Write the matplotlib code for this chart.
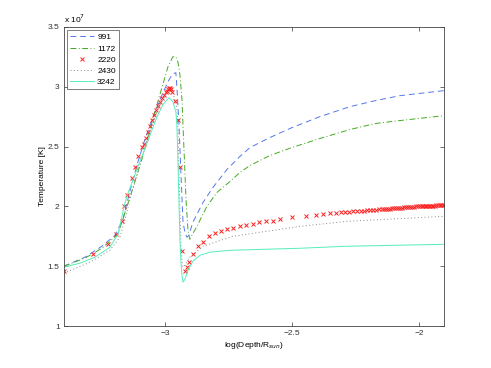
import matplotlib
matplotlib.use("Agg")
import matplotlib.pyplot as plt

plt.rcParams['font.family'] = ['Liberation Sans', 'DejaVu Sans']

# temperatures in units of 1e7 K, x is log10(depth / R_sun)
x_991 = [-3.398, -3.315, -3.248, -3.197, -3.165, -3.138, -3.106, -3.079, -3.039,
         -3.008, -2.984, -2.969, -2.957, -2.953, -2.945, -2.937, -2.929, -2.921,
         -2.913, -2.906, -2.890, -2.850, -2.811, -2.756, -2.705, -2.665, -2.587,
         -2.500, -2.390, -2.272, -2.173, -2.075, -1.902]
t_991 = [1.500, 1.575, 1.667, 1.758, 1.892, 2.125, 2.375, 2.558, 2.792,
         2.950, 3.058, 3.108, 3.117, 3.000, 2.692, 2.275, 1.875, 1.775,
         1.742, 1.758, 1.867, 2.033, 2.158, 2.308, 2.417, 2.492, 2.575,
         2.658, 2.750, 2.833, 2.883, 2.925, 2.967]

x_1172 = [-3.398, -3.315, -3.248, -3.185, -3.138, -3.091, -3.059, -3.020, -2.988,
          -2.969, -2.957, -2.949, -2.941, -2.933, -2.925, -2.917, -2.909, -2.902,
          -2.894, -2.874, -2.835, -2.795, -2.744, -2.705, -2.665, -2.587, -2.500,
          -2.390, -2.272, -2.173, -2.075, -1.902]
t_1172 = [1.500, 1.567, 1.650, 1.767, 2.075, 2.392, 2.642, 2.933, 3.167,
          3.250, 3.250, 3.208, 3.100, 2.892, 2.475, 2.058, 1.792, 1.725,
          1.758, 1.833, 2.000, 2.117, 2.208, 2.283, 2.342, 2.425, 2.492,
          2.567, 2.642, 2.692, 2.717, 2.758]

x_2220 = [-3.398, -3.283, -3.224, -3.193, -3.169, -3.161, -3.150, -3.130, -3.118,
          -3.106, -3.091, -3.083, -3.075, -3.067, -3.059, -3.051, -3.043, -3.035,
          -3.028, -3.020, -3.012, -3.004, -2.996, -2.992, -2.988, -2.984, -2.980,
          -2.976, -2.972, -2.961, -2.949, -2.941, -2.933, -2.921, -2.913, -2.906,
          -2.890, -2.870, -2.850, -2.827, -2.803, -2.780, -2.756, -2.732, -2.705,
          -2.681, -2.654, -2.630, -2.602, -2.575, -2.547, -2.500, -2.445, -2.406,
          -2.378, -2.350, -2.327, -2.307, -2.291, -2.276, -2.260, -2.244, -2.228,
          -2.217, -2.205, -2.193, -2.181, -2.169, -2.157, -2.146, -2.138, -2.130,
          -2.122, -2.114, -2.106, -2.098, -2.091, -2.083, -2.075, -2.067, -2.059,
          -2.051, -2.043, -2.035, -2.028, -2.020, -2.012, -2.004, -1.996, -1.990,
          -1.984, -1.978, -1.972, -1.967, -1.961, -1.955, -1.949, -1.943, -1.937,
          -1.931, -1.925, -1.919, -1.913, -1.907, -1.902]
t_2220 = [1.458, 1.600, 1.683, 1.767, 1.875, 2.000, 2.092, 2.233, 2.333,
          2.425, 2.492, 2.525, 2.575, 2.625, 2.675, 2.725, 2.767, 2.808,
          2.842, 2.875, 2.908, 2.933, 2.958, 2.967, 2.983, 2.992, 2.992,
          2.983, 2.958, 2.883, 2.725, 2.325, 1.625, 1.458, 1.492, 1.533,
          1.600, 1.667, 1.700, 1.750, 1.775, 1.792, 1.808, 1.817, 1.833,
          1.842, 1.850, 1.867, 1.875, 1.878, 1.892, 1.908, 1.917, 1.925,
          1.933, 1.942, 1.948, 1.951, 1.953, 1.955, 1.958, 1.960, 1.962,
          1.964, 1.966, 1.968, 1.970, 1.972, 1.974, 1.976, 1.977, 1.979,
          1.980, 1.982, 1.983, 1.985, 1.986, 1.987, 1.989, 1.990, 1.992,
          1.993, 1.994, 1.995, 1.997, 1.998, 1.999, 2.000, 2.001, 2.002,
          2.003, 2.003, 2.004, 2.005, 2.005, 2.006, 2.006, 2.007, 2.007,
          2.008, 2.008, 2.009, 2.009, 2.010, 2.010]

x_2430 = [-3.398, -3.295, -3.217, -3.177, -3.157, -3.138, -3.098, -3.059, -3.020,
          -2.996, -2.980, -2.965, -2.953, -2.949, -2.945, -2.941, -2.937, -2.933,
          -2.929, -2.921, -2.902, -2.850, -2.732, -2.598, -2.469, -2.283, -1.902]
t_2430 = [1.442, 1.533, 1.633, 1.742, 1.892, 2.058, 2.350, 2.625, 2.858,
          2.933, 2.950, 2.925, 2.825, 2.642, 2.308, 1.975, 1.683, 1.542,
          1.492, 1.508, 1.575, 1.667, 1.750, 1.792, 1.833, 1.875, 1.917]

x_3242 = [-3.398, -3.335, -3.276, -3.217, -3.185, -3.173, -3.161, -3.146, -3.118,
          -3.079, -3.031, -3.008, -2.984, -2.969, -2.957, -2.953, -2.949, -2.945,
          -2.941, -2.937, -2.933, -2.929, -2.921, -2.909, -2.890, -2.862, -2.823,
          -2.744, -2.598, -2.469, -2.283, -1.902]
t_3242 = [1.492, 1.525, 1.575, 1.658, 1.767, 1.875, 2.000, 2.108, 2.267,
          2.483, 2.750, 2.850, 2.908, 2.875, 2.792, 2.683, 2.392, 2.058,
          1.725, 1.542, 1.425, 1.367, 1.392, 1.467, 1.542, 1.592, 1.617,
          1.633, 1.642, 1.650, 1.667, 1.683]

labels = ['991', '1172', '2220', '2430', '3242']

fig = plt.figure(figsize=(4.91, 3.68), dpi=100)
ax = fig.add_axes([0.130, 0.114, 0.774, 0.813])

ax.plot(x_991, t_991, color='#5577ee', linestyle=(0, (6, 4)), linewidth=0.7, label=labels[0])
ax.plot(x_1172, t_1172, color='#44aa22', linestyle=(0, (6, 2.5, 1, 2.5)), linewidth=0.7, label=labels[1])
ax.plot(x_2220, t_2220, color='#ff2222', linestyle='none', marker='x', markersize=3.5,
        markeredgewidth=0.7, label=labels[2])
ax.plot(x_2430, t_2430, color='#888888', linestyle=(0, (1, 2.5)), linewidth=0.7, label=labels[3])
ax.plot(x_3242, t_3242, color='#55eebb', linestyle='-', linewidth=0.7, label=labels[4])

ax.set_xlim(-3.398, -1.902)
ax.set_ylim(1, 3.5)
ax.set_xticks([-3, -2.5, -2])
ax.set_xticklabels(['\u22123', '\u22122.5', '\u22122'])
ax.set_yticks([1, 1.5, 2, 2.5, 3, 3.5])
ax.set_yticklabels(['1', '1.5', '2', '2.5', '3', '3.5'])
ax.tick_params(direction='in', top=True, right=True, labelsize=6, length=3, width=0.5,
               colors='#333333', pad=3)
for s in ax.spines.values():
    s.set_linewidth(0.6)
    s.set_color('#444444')

ax.text(0.0, 1.005, 'x 10$^7$', transform=ax.transAxes, fontsize=6, ha='left', va='bottom')
ax.set_xlabel('log(Depth/R$_{sun}$)', fontsize=6, labelpad=2)
ax.set_ylabel('Temperature [K]', fontsize=6, labelpad=1)

leg = ax.legend(loc='upper left', fontsize=6, frameon=True, fancybox=False,
                handlelength=2.8, handletextpad=0.4, labelspacing=0.4,
                borderpad=0.4, borderaxespad=0.4)
leg.get_frame().set_edgecolor('#444444')
leg.get_frame().set_linewidth(0.6)

fig.savefig('out.png', dpi=100)
